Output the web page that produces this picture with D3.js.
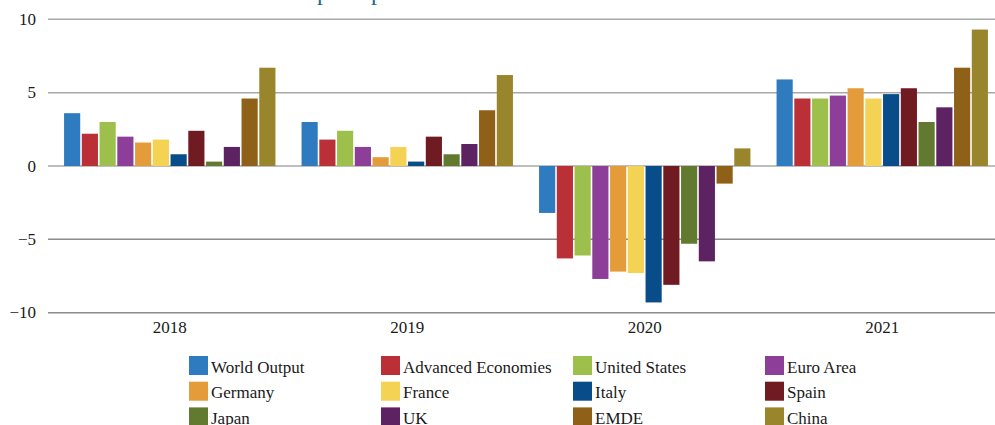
<!DOCTYPE html>
<html>
<head>
<meta charset="utf-8">
<script src="https://cdn.jsdelivr.net/npm/d3@7"></script>
<style>
  body { margin: 0; background: #fff; }
</style>
</head>
<body>
<svg id="chart" width="995" height="425"></svg>
<script>
let years = ['2018', '2019', '2020', '2021']
let series = ['World Output', 'Advanced Economies', 'United States', 'Euro Area',
  'Germany', 'France', 'Italy', 'Spain', 'Japan', 'UK', 'EMDE', 'China']
let colors = ['#2e7bbf', '#bb3037', '#9dc04c', '#8c3e98', '#e49c3b', '#f4d254',
  '#084d8a', '#701a22', '#627a30', '#5c2262', '#8f6017', '#99852b']

// growth, percent, one array per year in series order
let values2018 = [3.6, 2.2, 3.0, 2.0, 1.6, 1.8, 0.8, 2.4, 0.3, 1.3, 4.6, 6.7]
let values2019 = [3.0, 1.8, 2.4, 1.3, 0.6, 1.3, 0.3, 2.0, 0.8, 1.5, 3.8, 6.2]
let values2020 = [-3.2, -6.3, -6.1, -7.7, -7.2, -7.3, -9.3, -8.1, -5.3, -6.5, -1.2, 1.2]
let values2021 = [5.9, 4.6, 4.6, 4.8, 5.3, 4.6, 4.9, 5.3, 3.0, 4.0, 6.7, 9.3]
let yTicks = [10, 5, 0, -5, -10]

let table = [values2018, values2019, values2020, values2021]

let serif = "'Liberation Serif', serif"
let svg = d3.select('#chart')
  .style('font-family', serif)

// title, mostly cropped off the top
let title = svg.append('text')
  .attr('x', 0)
  .attr('y', 0)
  .attr('fill', '#1d6c88')
  .style('font-size', '24px')
  .text('Global Output Update')
let pIndex = title.text().indexOf('p')
let shift = 317 - title.node().getStartPositionOfChar(pIndex).x
title.attr('x', shift)

let y = d3.scaleLinear().domain([-10, 10]).range([312.7, 19.3])
let x0 = d3.scaleBand().domain(years).range([51, 1001]).paddingInner(0.11).paddingOuter(0.055)
let x1 = d3.scaleBand().domain(series).range([0, x0.bandwidth()]).paddingInner(0.09)
let color = d3.scaleOrdinal().domain(series).range(colors)

// gridlines
svg.append('g')
  .selectAll('line')
  .data(yTicks)
  .enter().append('line')
  .attr('x1', 48)
  .attr('x2', 995)
  .attr('y1', d => y(d))
  .attr('y2', d => y(d))
  .attr('stroke', d => d < 0 ? '#8c8c8c' : '#a8a8a8')
  .attr('stroke-width', 1.5)

svg.append('g')
  .selectAll('text')
  .data(yTicks)
  .enter().append('text')
  .attr('x', 36)
  .attr('y', d => y(d))
  .attr('dy', '0.33em')
  .attr('text-anchor', 'end')
  .attr('fill', '#1a1a1a')
  .style('font-size', '17px')
  .text(d => d < 0 ? '\u2212' + Math.abs(d) : d)

// bars
let groups = svg.append('g')
  .selectAll('g')
  .data(years)
  .enter().append('g')
  .attr('transform', d => 'translate(' + x0(d) + ',0)')

groups.selectAll('rect')
  .data((d, i) => table[i].map((v, j) => ({ name: series[j], value: v })))
  .enter().append('rect')
  .attr('x', d => x1(d.name))
  .attr('width', x1.bandwidth())
  .attr('y', d => y(Math.max(0, d.value)))
  .attr('height', d => Math.abs(y(d.value) - y(0)))
  .attr('fill', d => color(d.name))

// year labels
svg.append('g')
  .selectAll('text')
  .data(years)
  .enter().append('text')
  .attr('x', d => x0(d) + x0.bandwidth() / 2)
  .attr('y', 333)
  .attr('text-anchor', 'middle')
  .attr('fill', '#1a1a1a')
  .style('font-size', '17px')
  .text(d => d)

// legend, 4 columns
let legend = svg.append('g')
  .selectAll('g')
  .data(series)
  .enter().append('g')
  .attr('transform', (d, i) => 'translate(' + (189 + (i % 4) * 192) + ',' + (356 + Math.floor(i / 4) * 25.7) + ')')

legend.append('rect')
  .attr('width', 19)
  .attr('height', 19)
  .attr('fill', d => color(d))

legend.append('text')
  .attr('x', 22)
  .attr('y', 16.5)
  .attr('fill', '#1a1a1a')
  .style('font-size', '17px')
  .text(d => d)
</script>
</body>
</html>
